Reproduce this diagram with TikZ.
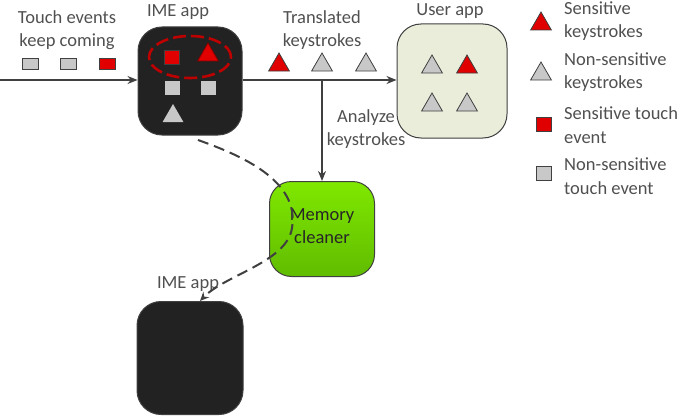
\documentclass[tikz,border=0pt]{standalone}
\usepackage{fontspec}
\setmainfont{Carlito}
\usetikzlibrary{shapes.geometric,arrows.meta}
\definecolor{txt}{HTML}{505050}
\definecolor{ln}{HTML}{404040}
\definecolor{box}{HTML}{222222}
\definecolor{sred}{HTML}{E00000}
\definecolor{sgray}{HTML}{C8C8C8}
\definecolor{ubox}{HTML}{E9EDDA}
\definecolor{gtop}{HTML}{80E800}
\definecolor{gbot}{HTML}{60BC00}
\begin{document}
\begin{tikzpicture}[x=1pt,y=-1pt,
  lbl/.style={text=txt,font=\fontsize{18.5}{23.5}\selectfont,align=center,inner sep=0pt},
  llbl/.style={text=txt,font=\fontsize{18.5}{23.5}\selectfont,align=left,inner sep=0pt,anchor=west},
  appbox/.style={draw=ln,line width=1pt,rounded corners=24pt,inner sep=0pt},
  tri/.style={regular polygon,regular polygon sides=3,minimum size=24pt,inner sep=0pt,draw=ln,line width=0.8pt},
  redtri/.style={tri,fill=sred},
  graytri/.style={tri,fill=sgray},
  sq/.style={rectangle,minimum width=16pt,minimum height=11pt,inner sep=0pt,draw=ln,line width=0.8pt},
  redsq/.style={sq,fill=sred},
  graysq/.style={sq,fill=sgray},
  conn/.style={draw=ln,line width=1.2pt,-{Stealth[length=10pt,width=8pt]}},
  dconn/.style={draw=ln,line width=2pt,dash pattern=on 11pt off 6pt,-{Stealth[length=9pt,width=8pt]}}
]
\useasboundingbox (0,0) rectangle (685,420);
% boxes
\node[appbox,fill=box,minimum width=104pt,minimum height=108pt] (ime) at (190,81) {};
\node[appbox,fill=ubox,minimum width=110pt,minimum height=114pt] (user) at (452,81) {};
\node[appbox,top color=gtop,bottom color=gbot,minimum width=105pt,minimum height=95pt,rounded corners=22pt] (mem) at (322,229) {};
\node[lbl,text=black!85] (memt) at (322,226) {Memory\\cleaner};
\node[appbox,fill=box,minimum width=106pt,minimum height=113pt] (ime2) at (190,358) {};
% labels
\node[lbl] (imet) at (178,12) {IME app};
\node[lbl] (usert) at (450,11) {User app};
\node[lbl] (ime2t) at (188,284) {IME app};
\node[lbl] (touch) at (67,30) {Touch events\\keep coming};
\node[lbl] (trans) at (322,30) {Translated\\keystrokes};
\node[lbl] (anal) at (366,129) {Analyze\\keystrokes};
% main arrows
\coordinate (start) at (0,80);
\draw[conn] (start) -- (ime.west |- start);
\coordinate (split) at (322,80);
\draw[conn] (ime.east |- start) -- (user.west |- start);
\draw[conn] (split) -- (mem.north);
% touch events
\node[graysq] (t1) at (30,64) {};
\node[graysq] (t2) at (68,64) {};
\node[redsq] (t3) at (107,64) {};
% inside IME
\node[redsq,minimum width=15pt,minimum height=14pt] (i1) at (172,57) {};
\node[redtri,draw=sred!60!black] (i2) at (208,55) {};
\node[graysq,draw=none,minimum width=15pt,minimum height=14pt] (i3) at (172,88) {};
\node[graysq,draw=none,minimum width=15pt,minimum height=14pt] (i4) at (208,88) {};
\node[graytri,draw=none] (i5) at (173,116) {};
\node[draw=sred!85!black,line width=2.6pt,dash pattern=on 13pt off 5pt,ellipse,minimum width=82pt,minimum height=42pt,inner sep=0pt] (sel) at (190,57) {};
% translated keystrokes
\node[redtri] (k1) at (279,65) {};
\node[graytri] (k2) at (322,65) {};
\node[graytri] (k3) at (366,65) {};
% user app
\node[graytri] (u1) at (432,67) {};
\node[redtri] (u2) at (467,67) {};
\node[graytri] (u3) at (432,105) {};
\node[graytri] (u4) at (467,105) {};
% dashed flow
\coordinate (d0) at (198,140);
\draw[dconn] (d0) .. controls (240,155) and (300,180) .. (292,228)
  .. controls (287,262) and (225,275) .. (ime2.north -| 200,0);
% legend
\node[redtri] (lg1) at (541,24) {};
\node[llbl] (lg1t) at (564,21) {Sensitive\\keystrokes};
\node[graytri] (lg2) at (541,74) {};
\node[llbl] (lg2t) at (564,72) {Non-sensitive\\keystrokes};
\node[redsq,minimum width=15pt,minimum height=14pt] (lg3) at (544,124) {};
\node[llbl] (lg3t) at (564,125) {Sensitive touch\\event};
\node[graysq,minimum width=15pt,minimum height=14pt] (lg4) at (544,173) {};
\node[llbl] (lg4t) at (564,176) {Non-sensitive\\touch event};
\end{tikzpicture}
\end{document}
